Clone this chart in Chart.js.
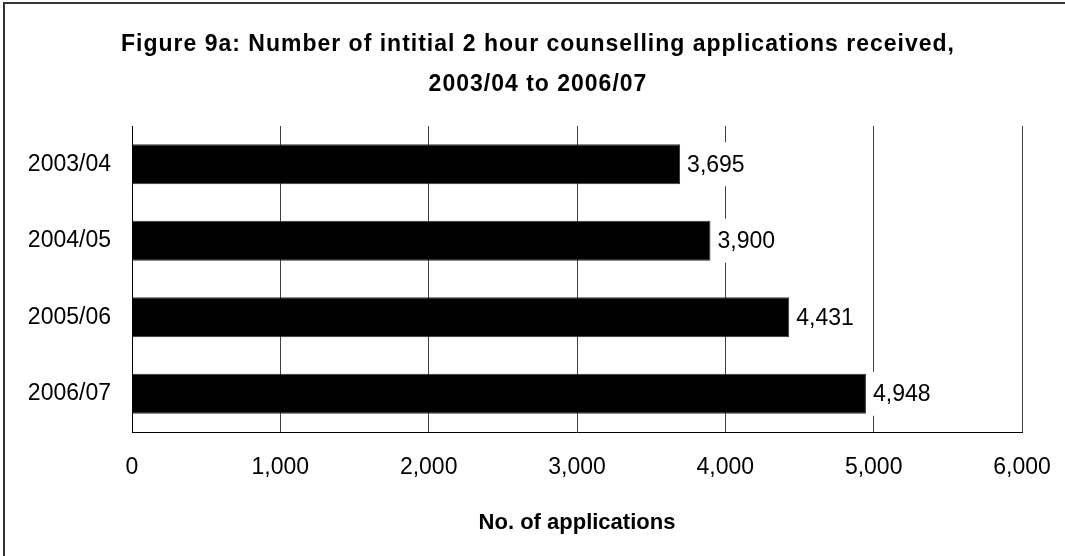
<!DOCTYPE html>
<html>
<head>
<meta charset="utf-8">
<script src="https://cdn.jsdelivr.net/npm/chart.js@4/dist/chart.umd.min.js"></script>
<style>
  html, body { margin: 0; padding: 0; background: #fff; }
  #wrap { position: relative; width: 1065px; height: 556px; overflow: hidden; }
  #frame { position: absolute; left: 3px; top: 2px; right: -10px; bottom: -10px;
           border-top: 2px solid #333; border-left: 2px solid #333; pointer-events: none; }
  canvas { position: absolute; left: 0; top: 0; }
</style>
</head>
<body>
<div id="wrap">
  <canvas id="chart" width="1065" height="556"></canvas>
  <div id="frame"></div>
</div>
<script>
const years = ['2003/04', '2004/05', '2005/06', '2006/07'];
const applications = [3695, 3900, 4431, 4948];
const xTicks = [0, 1000, 2000, 3000, 4000, 5000, 6000];
const chartTitle = ['Figure 9a: Number of intitial 2 hour counselling applications received,', '2003/04 to 2006/07'];
const xAxisTitle = 'No. of applications';

const FONT = '"Liberation Sans", Arial, Helvetica, sans-serif';
const fmt = v => v.toLocaleString('en-US');

// value labels next to each bar, on a white patch that hides the gridlines
const valueLabels = {
  id: 'valueLabels',
  afterDatasetsDraw(chart) {
    const ctx = chart.ctx;
    const meta = chart.getDatasetMeta(0);
    ctx.save();
    ctx.font = '23px ' + FONT;
    ctx.textBaseline = 'middle';
    ctx.textAlign = 'left';
    meta.data.forEach((bar, i) => {
      const text = fmt(applications[i]);
      const w = ctx.measureText(text).width;
      ctx.fillStyle = '#fff';
      ctx.fillRect(bar.x + 2, bar.y - 22, w + 10, 44);
      ctx.fillStyle = '#000';
      ctx.fillText(text, bar.x + 7, bar.y + 1);
    });
    ctx.restore();
  }
};

// the original title sits a bit left of the plot centre and is loosely spaced
const titleTweak = {
  id: 'titleTweak',
  afterLayout(chart) {
    const t = chart.titleBlock;
    if (!t) return;
    t.left = 54;
    t.right = chart.width - 43;
    t.width = t.right - t.left;
    if (!t._spaced) {
      const draw = t.draw.bind(t);
      t.draw = () => {
        chart.ctx.save();
        chart.ctx.letterSpacing = '1px';
        draw();
        chart.ctx.restore();
      };
      t._spaced = true;
    }
  }
};

new Chart(document.getElementById('chart').getContext('2d'), {
  type: 'bar',
  data: {
    labels: years,
    datasets: [{
      data: applications,
      backgroundColor: '#000',
      borderColor: '#333',
      borderWidth: 1,
      categoryPercentage: 1,
      barPercentage: 0.52
    }]
  },
  options: {
    indexAxis: 'y',
    responsive: false,
    animation: false,
    devicePixelRatio: 1,
    layout: { padding: { left: 0, right: 43, top: 0, bottom: 0 } },
    plugins: {
      legend: { display: false },
      tooltip: { enabled: false },
      title: {
        display: true,
        text: chartTitle,
        color: '#000',
        font: { family: FONT, size: 23, weight: 'bold', lineHeight: 40 / 23 },
        padding: { top: 25, bottom: 21 }
      }
    },
    scales: {
      x: {
        min: 0,
        max: 6000,
        afterBuildTicks: axis => { axis.ticks = xTicks.map(v => ({ value: v })); },
        afterFit: axis => { axis.height = 124; },
        ticks: {
          color: '#000',
          padding: 0,
          font: { family: FONT, size: 23 },
          callback: v => fmt(v)
        },
        // invisible tick marks push the labels down without widening the side padding
        grid: { color: '#404040', lineWidth: 1, drawTicks: true, tickLength: 22, tickColor: 'rgba(0,0,0,0)' },
        border: { display: true, color: '#000', width: 1 },
        title: {
          display: true,
          text: xAxisTitle,
          color: '#000',
          font: { family: FONT, size: 22, weight: 'bold' },
          padding: { top: 0, bottom: 20 }
        }
      },
      y: {
        afterFit: axis => { axis.width = 132; },
        ticks: {
          color: '#000',
          padding: 21,
          font: { family: FONT, size: 23 }
        },
        grid: { display: false, drawTicks: false },
        border: { display: true, color: '#000', width: 1 }
      }
    }
  },
  plugins: [valueLabels, titleTweak]
});
</script>
</body>
</html>
